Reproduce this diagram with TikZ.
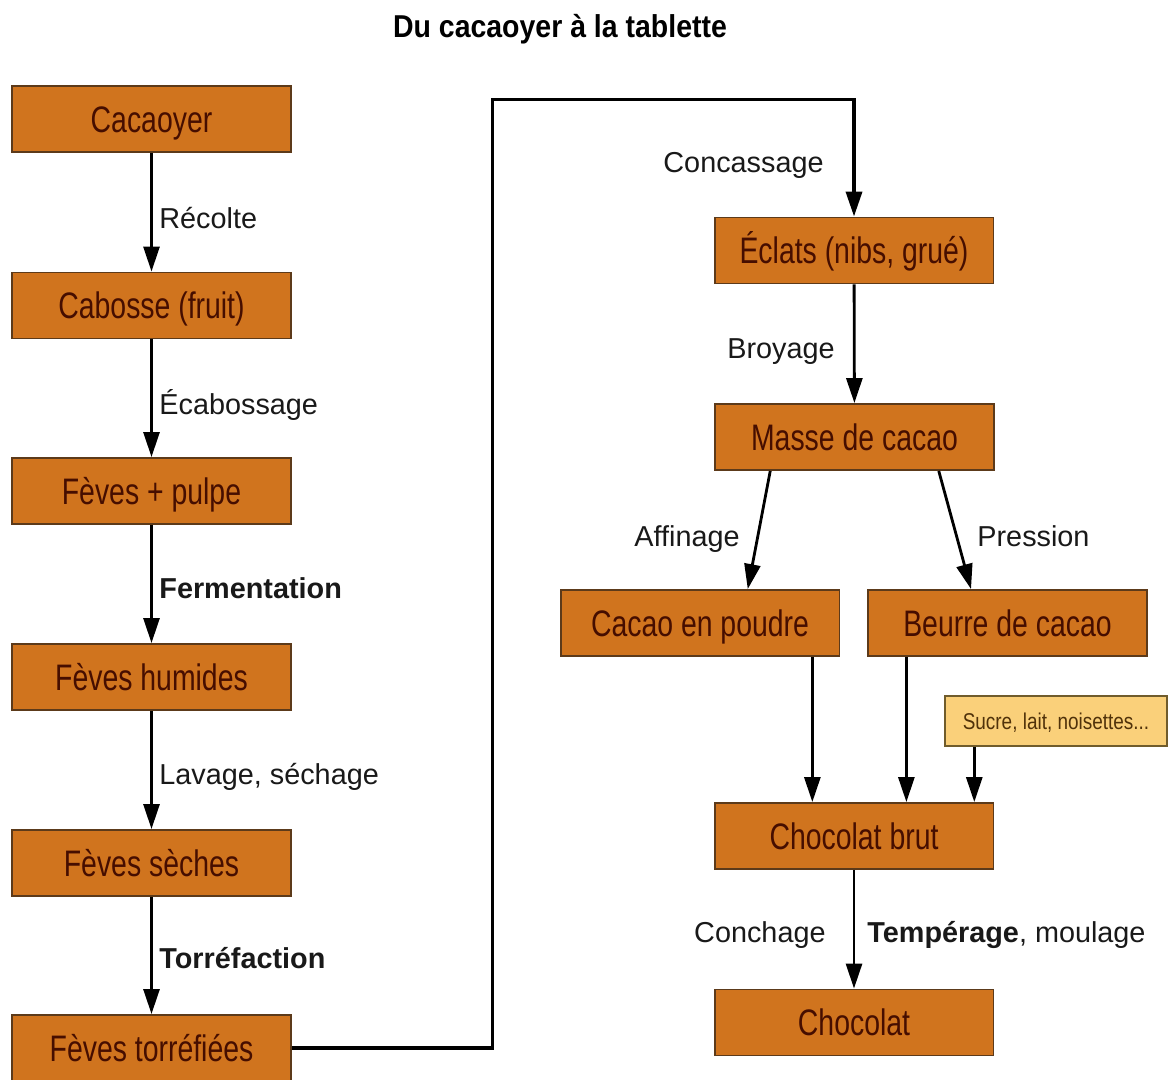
\documentclass[tikz,border=0pt]{standalone}
\usepackage{fontspec}
\setmainfont{Liberation Sans}
\newfontfamily\boxfont[FakeStretch=0.77]{Liberation Sans}
\newfontfamily\notefont[FakeStretch=0.83]{Liberation Sans}
\newfontfamily\titlefont[FakeStretch=0.9]{Liberation Sans}
\usetikzlibrary{arrows.meta,calc}
\definecolor{cocoa}{RGB}{208,116,30}
\definecolor{cocoaedge}{RGB}{92,58,26}
\definecolor{cocoatext}{RGB}{70,14,0}
\definecolor{sugar}{RGB}{250,208,122}
\definecolor{sugaredge}{RGB}{112,92,44}
\definecolor{sugartext}{RGB}{80,50,10}

\begin{document}
\begin{tikzpicture}[x=0.02cm, y=-0.02cm, ->, >={Triangle[length=0.5cm, width=0.32cm]}, line width=1.6pt]
    \tikzstyle{stage} = [rectangle, draw=cocoaedge, line width=1.1pt, fill=cocoa, text=cocoatext, font=\boxfont\fontsize{21}{24}\selectfont, text height=15pt, text depth=0pt, minimum width=5.58cm, minimum height=1.32cm, inner sep=0]
    \tikzstyle{extra} = [stage, fill=sugar, draw=sugaredge, text=sugartext, font=\notefont\fontsize{13}{15}\selectfont, text height=9.3pt, minimum width=4.44cm, minimum height=1cm]
    \tikzstyle{lbl} = [font=\fontsize{16.4}{19}\selectfont, text=black!90, inner sep=0]
    \tikzstyle{flow} = [line width=1.6pt, black]

    \useasboundingbox[fill=white, -] (0,0) rectangle (1168,1079);

    \node[font=\titlefont\fontsize{18}{21}\selectfont\bfseries, anchor=base] (title) at (560,37) {Du cacaoyer à la tablette};

    % left column
    \node[stage] (cacaoyer) at (151.5,119)  {Cacaoyer};
    \node[stage] (cabosse)  at (151.5,305.5) {Cabosse (fruit)};
    \node[stage] (pulpe)    at (151.5,491)  {Fèves + pulpe};
    \node[stage] (humides)  at (151.5,677)  {Fèves humides};
    \node[stage] (seches)   at (151.5,863)  {Fèves sèches};
    \node[stage] (torref)   at (151.5,1048) {Fèves torréfiées};

    % right column
    \node[stage] (eclats)   at (854,250.5)  {Éclats (nibs, grué)};
    \node[stage] (masse)    at (854.5,437)  {Masse de cacao};
    \node[stage] (poudre)   at (700,623)    {Cacao en poudre};
    \node[stage] (beurre)   at (1007.5,623) {Beurre de cacao};
    \node[extra] (sucre)    at (1056,721)   {Sucre, lait, noisettes...};
    \node[stage] (brut)     at (854,836)    {Chocolat brut};
    \node[stage] (choco)    at (854,1022.5) {Chocolat};
    \coordinate (bend) at (492.5,99.5);

    \draw[flow] (cacaoyer) -- (cabosse);
    \draw[flow] (cabosse)  -- (pulpe);
    \draw[flow] (pulpe)    -- (humides);
    \draw[flow] (humides)  -- (seches);
    \draw[flow] (seches)   -- (torref);
    \draw[flow, line width=2pt] (torref.east) -| (bend) -| (eclats.north);
    \draw[flow] (eclats)   -- (masse);
    \draw[flow] ($(masse.south west)!0.2!(masse.south east)$)   -- ($(poudre.north west)!0.67!(poudre.north east)$);
    \draw[flow] ($(masse.south west)!0.8!(masse.south east)$)   -- ($(beurre.north west)!0.37!(beurre.north east)$);
    \draw[flow] ($(poudre.south west)!0.9!(poudre.south east)$) coordinate (p1) -- (p1 |- brut.north);
    \draw[flow] ($(beurre.south west)!0.14!(beurre.south east)$) coordinate (b1) -- (b1 |- brut.north);
    \draw[flow] ($(sucre.south west)!0.135!(sucre.south east)$) coordinate (s1) -- (s1 |- brut.north);
    \draw[flow] (brut)     -- (choco);

    % step labels
    \node[lbl, anchor=base west] (recolte)  at (158,228) {Récolte};
    \node[lbl, anchor=base west] (ecab)     at (158,414) {Écabossage};
    \node[lbl, anchor=base west] (ferm)     at (158,598) {\bfseries Fermentation};
    \node[lbl, anchor=base west] (lavage)   at (158,784) {Lavage, séchage};
    \node[lbl, anchor=base west] (torrlbl)  at (158,968) {\bfseries Torréfaction};
    \node[lbl, anchor=base east] (concass)  at (825,172) {Concassage};
    \node[lbl, anchor=base east] (broyage)  at (836,358) {Broyage};
    \node[lbl, anchor=base east] (affinage) at (741,546) {Affinage};
    \node[lbl, anchor=base west] (pression) at (976,546) {Pression};
    \node[lbl, anchor=base east] (conchage) at (827,942) {Conchage};
    \node[lbl, anchor=base west] (temper)   at (866,942) {\textbf{Tempérage}, moulage};
\end{tikzpicture}
\end{document}
